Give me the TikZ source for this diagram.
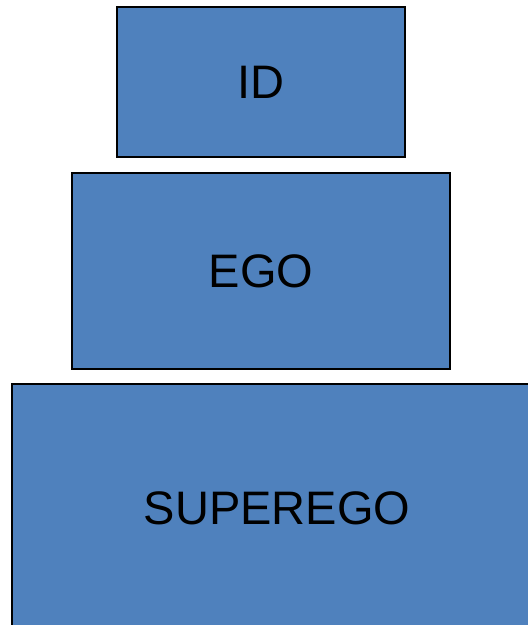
\documentclass[tikz,border=0pt]{standalone}
\usepackage{fontspec}
\setmainfont{Liberation Sans}
\definecolor{boxblue}{HTML}{4F81BD}
\begin{document}
\begin{tikzpicture}[x=1pt,y=-1pt,
  layer/.style={draw=black,line width=2pt,fill=boxblue,inner sep=0pt,
    font=\fontsize{47}{52}\selectfont}]
\useasboundingbox (0,0) rectangle (528,625);
\clip (0,0) rectangle (528,625);
\node[layer,minimum width=288pt,minimum height=150pt] (id) at (261,82) {ID};
\node[layer,minimum width=378pt,minimum height=196pt] (ego) at (261,271) {EGO};
\node[layer,minimum width=530pt,minimum height=248pt] (superego) at (277,508) {SUPEREGO};
\end{tikzpicture}
\end{document}
